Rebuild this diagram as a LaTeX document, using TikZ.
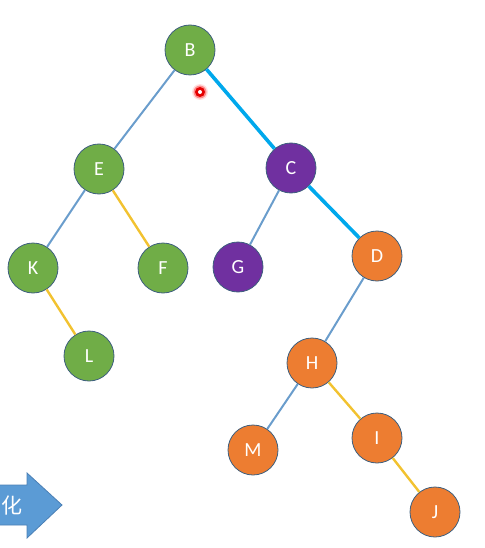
\documentclass[tikz,border=0pt]{standalone}
\usepackage{fontspec}
\setmainfont{Carlito}
\newfontfamily\cjk{Noto Sans CJK SC}
\usepackage{xcolor}
\definecolor{nodegreen}{HTML}{70AD47}
\definecolor{nodepurple}{HTML}{7030A0}
\definecolor{nodeorange}{HTML}{ED7D31}
\definecolor{rimcolor}{HTML}{3E5F7E}
\definecolor{edgeblue}{HTML}{6A9DCC}
\definecolor{edgecyan}{HTML}{00A8EC}
\definecolor{edgeyellow}{HTML}{F2C230}
\definecolor{arrowblue}{HTML}{5B9BD5}
\definecolor{arrowrim}{HTML}{4A7FB5}

\begin{document}
\begin{tikzpicture}[x=1pt, y=-1pt,
    treenode/.style={circle, draw=rimcolor, line width=0.8pt, minimum size=50pt,
        inner sep=0pt, text=white, font=\fontsize{20}{24}\selectfont},
    plainedge/.style={edgeblue, line width=2pt},
    hotedge/.style={edgecyan, line width=3.6pt},
    sideedge/.style={edgeyellow, line width=2.4pt}]
            \useasboundingbox (0, 0) rectangle (484, 548);
            \clip (0, 0) rectangle (484, 548);
            %% 定义treenode命令
            \newcommand{\treenode}[4]{
                \node[treenode, fill=#4] (#1) at (#2, #3) {#1};
            }
            %% 一系列的结点
            \treenode{B}{190}{50}{nodegreen};
            \treenode{E}{99}{169}{nodegreen};
            \treenode{C}{291}{168}{nodepurple};
            \treenode{K}{33}{268}{nodegreen};
            \treenode{F}{163}{268}{nodegreen};
            \treenode{G}{238}{267}{nodepurple};
            \treenode{D}{377}{256}{nodeorange};
            \treenode{L}{89}{356}{nodegreen};
            \treenode{H}{312}{363}{nodeorange};
            \treenode{M}{253}{450}{nodeorange};
            \treenode{I}{377}{438}{nodeorange};
            \treenode{J}{435}{512}{nodeorange};

            %% 一系列的连线
            \draw[plainedge] (B) -- (E);
            \draw[plainedge] (E) -- (K);
            \draw[plainedge] (C) -- (G);
            \draw[plainedge] (D) -- (H);
            \draw[plainedge] (H) -- (M);
            \draw[sideedge] (E) -- (F);
            \draw[sideedge] (K) -- (L);
            \draw[sideedge] (H) -- (I);
            \draw[sideedge] (I) -- (J);
            \draw[hotedge] (B) -- (C);
            \draw[hotedge] (C) -- (D);

            %% 红色光点
            \fill[red!12] (200, 92) circle [radius=8];
            \fill[red!45] (200, 92) circle [radius=6.5];
            \fill[red!90!black] (200, 92) circle [radius=5];
            \fill[white] (200, 92) circle [radius=2];

            %% 左下角箭头
            \draw[fill=arrowblue, draw=arrowrim, line width=0.8pt]
                (-5, 485) -- (27, 485) -- (27, 473) -- (62, 505)
                -- (27, 538) -- (27, 525) -- (-5, 525) -- cycle;
            \node[text=white, font=\cjk\fontsize{21}{24}\selectfont] (tag) at (12, 506) {化};
        \end{tikzpicture}
\end{document}
